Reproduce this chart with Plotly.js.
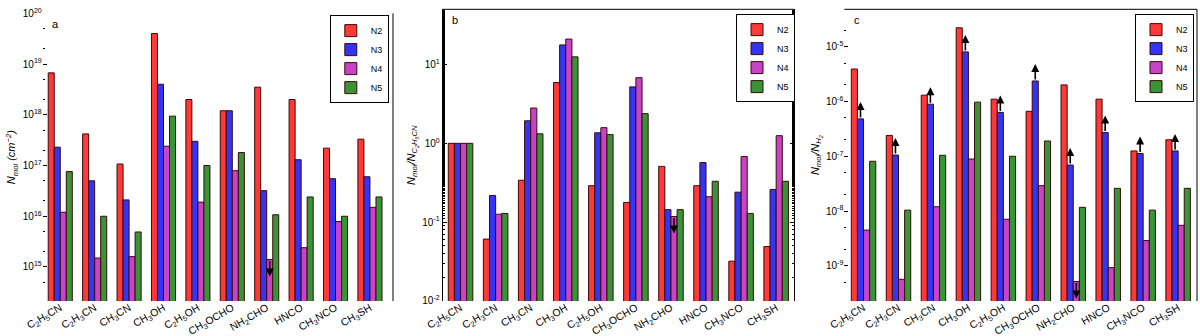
<!DOCTYPE html>
<html>
<head>
<meta charset="utf-8">
<script src="https://cdn.plot.ly/plotly-3.0.1.min.js"></script>
<style>
  html, body { margin: 0; padding: 0; background: #fff; }
  #chart { width: 1200px; height: 336px; }
</style>
</head>
<body>
<div id="chart"></div>
<script>
// Molecules on the x axis (same order in all three panels)
const molecules = [
    'C<sub>2</sub>H<sub>5</sub>CN', 'C<sub>2</sub>H<sub>3</sub>CN', 'CH<sub>3</sub>CN',
    'CH<sub>3</sub>OH', 'C<sub>2</sub>H<sub>5</sub>OH', 'CH<sub>3</sub>OCHO',
    'NH<sub>2</sub>CHO', 'HNCO', 'CH<sub>3</sub>NCO', 'CH<sub>3</sub>SH'
];
const sources = ['N2', 'N3', 'N4', 'N5'];
const colors = ['#ff3838', '#3434f4', '#c843c8', '#379537'];

// Panel a: column densities (cm^-2)
const colN2 = [6.7e18, 4.2e17, 1.07e17, 4.0e19, 2.0e18, 1.2e18, 3.5e18, 2.0e18, 2.2e17, 3.3e17];
const colN3 = [2.3e17, 5.0e16, 2.1e16, 4.0e18, 3.0e17, 1.2e18, 3.2e16, 1.3e17, 5.5e16, 6.0e16];
const colN4 = [1.2e16, 1.5e15, 1.6e15, 2.4e17, 1.9e16, 7.9e16, 1.4e15, 2.4e15, 7.9e15, 1.5e16];
const colN5 = [7.6e16, 1.0e16, 4.9e15, 9.4e17, 1.0e17, 1.8e17, 1.07e16, 2.4e16, 1.0e16, 2.4e16];

// Panel b: ratio to C2H5CN
const relN2 = [1, 0.061, 0.34, 5.9, 0.29, 0.178, 0.51, 0.29, 0.032, 0.049];
const relN3 = [1, 0.218, 1.93, 17.7, 1.36, 5.2, 0.144, 0.57, 0.24, 0.26];
const relN4 = [1, 0.126, 2.8, 21, 1.58, 6.8, 0.118, 0.21, 0.68, 1.25];
const relN5 = [1, 0.129, 1.32, 12.5, 1.29, 2.38, 0.144, 0.33, 0.129, 0.33];

// Panel c: abundance relative to H2
const abN2 = [3.9e-6, 2.4e-7, 1.3e-6, 2.2e-5, 1.1e-6, 6.6e-7, 2.0e-6, 1.1e-6, 1.25e-7, 2.0e-7];
const abN3 = [4.8e-7, 1.05e-7, 8.9e-7, 8.0e-6, 6.3e-7, 2.36e-6, 6.9e-8, 2.7e-7, 1.12e-7, 1.25e-7];
const abN4 = [4.5e-9, 5.7e-10, 1.2e-8, 8.9e-8, 7.1e-9, 2.9e-8, 5.2e-10, 9.3e-10, 2.9e-9, 5.5e-9];
const abN5 = [8.1e-8, 1.04e-8, 1.04e-7, 9.7e-7, 1.0e-7, 1.9e-7, 1.17e-8, 2.6e-8, 1.04e-8, 2.6e-8];

// Limits: N4 of NH2CHO is an upper limit everywhere, N3 in panel c is a lower limit
const upperLimitSource = 2;    // N4
const upperLimitMolecule = 6;  // NH2CHO
const lowerLimitSourceC = 1;   // N3

// Tick labels
const tickValsA = [1e15, 1e16, 1e17, 1e18, 1e19, 1e20];
const tickTextA = ['10<sup>15</sup>', '10<sup>16</sup>', '10<sup>17</sup>', '10<sup>18</sup>', '10<sup>19</sup>', '10<sup>20</sup>'];
const tickValsB = [0.01, 0.1, 1, 10];
const tickTextB = ['10<sup>-2</sup>', '10<sup>-1</sup>', '10<sup>0</sup>', '10<sup>1</sup>'];
const tickValsC = [1e-9, 1e-8, 1e-7, 1e-6, 1e-5];
const tickTextC = ['10<sup>-9</sup>', '10<sup>-8</sup>', '10<sup>-7</sup>', '10<sup>-6</sup>', '10<sup>-5</sup>'];

const panels = [
    { key: '', legend: 'legend', data: [colN2, colN3, colN4, colN5] },
    { key: '2', legend: 'legend2', data: [relN2, relN3, relN4, relN5] },
    { key: '3', legend: 'legend3', data: [abN2, abN3, abN4, abN5] }
];

const xIdx = molecules.map((m, i) => i);
const bargap = 0.3;
const barW = (1 - bargap) / sources.length;
const barOffset = k => (k - (sources.length - 1) / 2) * barW;

const traces = [];
panels.forEach(p => {
    p.data.forEach((vals, k) => {
        traces.push({
            type: 'bar',
            x: xIdx,
            y: vals,
            name: sources[k],
            xaxis: 'x' + p.key,
            yaxis: 'y' + p.key,
            legend: p.legend,
            marker: { color: colors[k], line: { color: '#3a0a0a', width: 1 } },
            hoverinfo: 'x+y+name'
        });
    });
});

// Arrows for limits
const annotations = [];
function limitArrow(p, k, i, up) {
    const len = 17;
    annotations.push({
        xref: 'x' + p.key, yref: 'y' + p.key,
        x: i + barOffset(k),
        y: Math.log10(p.data[k][i]),
        text: '',
        showarrow: true,
        arrowhead: 2, arrowsize: 1, arrowwidth: 1.6, arrowcolor: '#000',
        ax: 0, ay: up ? len : -len,
        yshift: up ? len : -len
    });
}
panels.forEach(p => limitArrow(p, upperLimitSource, upperLimitMolecule, false));
xIdx.forEach(i => limitArrow(panels[2], lowerLimitSourceC, i, true));

// Panel letters
['a', 'b', 'c'].forEach((t, n) => {
    const key = panels[n].key;
    annotations.push({
        xref: 'x' + key + ' domain', yref: 'y' + key + ' domain',
        x: 0.022, y: 0.99, xanchor: 'left', yanchor: 'top',
        text: t, showarrow: false,
        font: { size: 11, color: '#000' }
    });
});

const fontFam = "'Liberation Sans', Arial, sans-serif";

function xAxis(domain, range, anchor) {
    return {
        domain: domain, range: range, anchor: anchor,
        tickmode: 'array', tickvals: xIdx, ticktext: molecules,
        tickangle: -30, ticks: '', showgrid: false, zeroline: false,
        showline: false, ticklabelstandoff: -2,
        tickfont: { size: 10.5, color: '#000' }
    };
}
function yAxis(domain, range, anchor, vals, text, title, showline) {
    return {
        domain: domain, range: range, anchor: anchor, type: 'log',
        tickmode: 'array', tickvals: vals, ticktext: text,
        ticks: 'inside', ticklen: 4, tickcolor: '#000',
        minor: { ticks: 'inside', ticklen: 2, tickcolor: '#000', showgrid: false },
        showgrid: false, zeroline: false,
        showline: showline, linecolor: '#000', linewidth: 1, mirror: showline ? 'ticks' : false,
        tickfont: { size: 10, color: '#000' },
        title: { text: title, font: { size: 11, color: '#000' }, standoff: 4 }
    };
}

const yDomA = [0.1042, 0.9604];
const yDomBC = [0.1042, 0.9723];

function legendAt(x, y) {
    return {
        x: x, y: y, xanchor: 'right', yanchor: 'top',
        bgcolor: '#fff', bordercolor: '#000', borderwidth: 1,
        font: { size: 9 }, tracegroupgap: 0, itemwidth: 30
    };
}

const layout = {
    width: 1200, height: 336,
    margin: { l: 0, r: 0, t: 0, b: 0 },
    paper_bgcolor: '#fff', plot_bgcolor: '#fff',
    font: { family: fontFam, color: '#000' },
    barmode: 'group', bargap: bargap, bargroupgap: 0,
    xaxis: xAxis([0.0356, 0.3275], [-0.51, 9.67], 'y'),
    xaxis2: xAxis([0.3689, 0.6617], [-0.51, 9.51], 'y2'),
    xaxis3: xAxis([0.7036, 0.9975], [-0.55, 9.54], 'y3'),
    yaxis: yAxis(yDomA, [14.33, 20], 'x', tickValsA, tickTextA,
        '<i>N<sub>mol</sub> (cm<sup>−2</sup>)</i>', false),
    yaxis2: yAxis(yDomBC, [-2, 1.70], 'x2', tickValsB, tickTextB,
        '<i>N<sub>mol</sub>/N<sub>C<sub>2</sub>H<sub>5</sub>CN</sub></i>', true),
    yaxis3: yAxis(yDomBC, [-9.64, -4.32], 'x3', tickValsC, tickTextC,
        '<i>N<sub>mol</sub>/N<sub>H<sub>2</sub></sub></i>', false),
    legend: legendAt(0.324, 0.955),
    legend2: legendAt(0.6625, 0.958),
    legend3: legendAt(0.995, 0.958),
    annotations: annotations,
    shapes: [
        // right frame of panel a, top and right frame of panels b, c
        { type: 'line', xref: 'x domain', yref: 'y domain', x0: 1, x1: 1, y0: 0, y1: 1, line: { color: '#000', width: 1 } },
        { type: 'line', xref: 'x2 domain', yref: 'y2 domain', x0: 0, x1: 1, y0: 1, y1: 1, line: { color: '#000', width: 1 } },
        { type: 'line', xref: 'x3 domain', yref: 'y3 domain', x0: 0, x1: 1, y0: 1, y1: 1, line: { color: '#000', width: 1 } },
        { type: 'line', xref: 'x3 domain', yref: 'y3 domain', x0: 1, x1: 1, y0: 0, y1: 1, line: { color: '#000', width: 1 } }
    ]
};

Plotly.newPlot('chart', traces, layout, { displayModeBar: false, staticPlot: true });
</script>
</body>
</html>
